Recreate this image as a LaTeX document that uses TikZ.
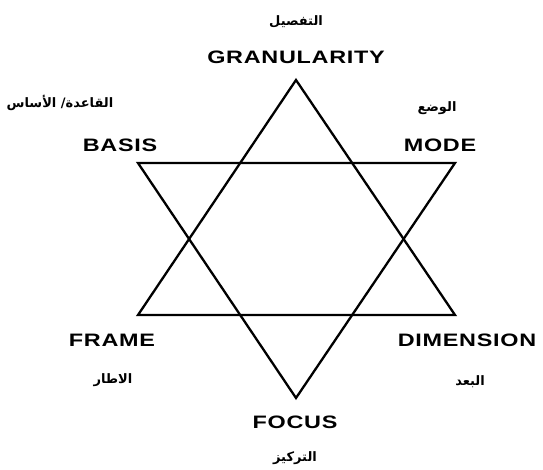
\documentclass[tikz,border=0pt]{standalone}
\usepackage{fontspec}
\TeXXeTstate=1
\newfontfamily\labfont[FakeStretch=1.3,LetterSpace=4]{Liberation Sans}
\newfontfamily\arabicfont[Script=Arabic]{DejaVu Sans}
\begin{document}
\begin{tikzpicture}[x=1pt,y=-1pt,
  lab/.style={font=\labfont\bfseries\fontsize{18}{20}\selectfont, inner sep=0pt},
  ar/.style={font=\arabicfont\bfseries\fontsize{13}{15}\selectfont, inner sep=0pt},
  edge/.style={line width=2.3pt, line join=miter}]
\useasboundingbox (0,0) rectangle (543,470);
\coordinate (T) at (296,80);
\coordinate (BL) at (138,315);
\coordinate (BR) at (455,315);
\coordinate (TL) at (138,163);
\coordinate (TR) at (455,163);
\coordinate (B) at (296,398);
\draw[edge] (T) -- (BL) -- (BR) -- cycle;
\draw[edge] (TL) -- (TR) -- (B) -- cycle;
\node[ar] (a1) at (296,22) {\beginR التفصيل\endR};
\node[lab] (l1) at (296,57) {GRANULARITY};
\node[ar] (a2) at (60,103) {\beginR القاعدة/ الأساس\endR};
\node[lab] (l2) at (120,145) {BASIS};
\node[ar] (a3) at (437,108) {\beginR الوضع\endR};
\node[lab] (l3) at (440,145) {MODE};
\node[lab] (l4) at (112,340) {FRAME};
\node[ar] (a4) at (113,380) {\beginR الاطار\endR};
\node[lab] (l5) at (467,340) {DIMENSION};
\node[ar] (a5) at (470,382) {\beginR البعد\endR};
\node[lab] (l6) at (295,422) {FOCUS};
\node[ar] (a6) at (295,458) {\beginR التركيز\endR};
\end{tikzpicture}
\end{document}
